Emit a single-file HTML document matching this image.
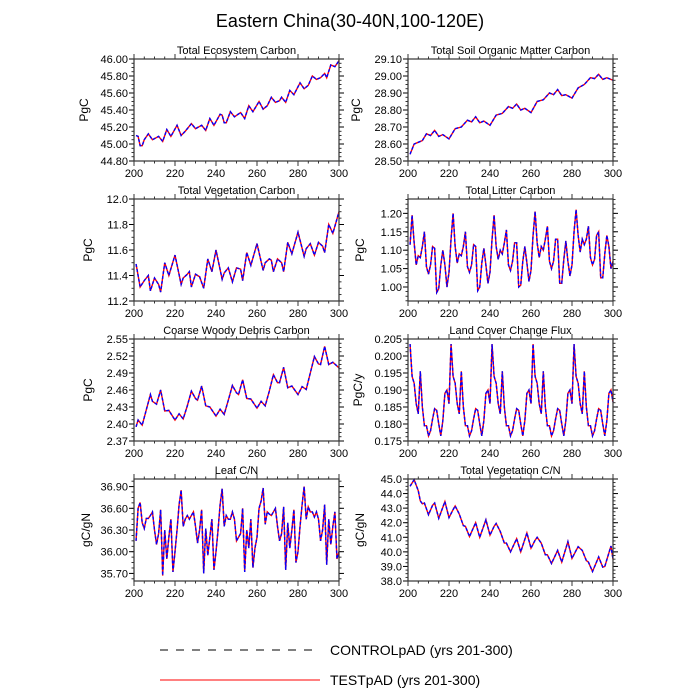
<!DOCTYPE html>
<html><head><meta charset="utf-8"><style>
html,body{margin:0;padding:0;background:#fff;}
svg{display:block;font-family:"Liberation Sans",sans-serif;}
</style></head><body>
<svg id="chart" width="700" height="700" viewBox="0 0 700 700">
<text x="350" y="27" text-anchor="middle" font-size="18" fill="#000">Eastern China(30-40N,100-120E)</text>
<g id="panels"></g>
<g>
<line x1="160" y1="650" x2="320" y2="650" stroke="#000" stroke-width="1" stroke-dasharray="8,8"/>
<text x="330" y="655" font-size="14">CONTROLpAD (yrs 201-300)</text>
<line x1="160" y1="680" x2="320" y2="680" stroke="#f00" stroke-width="1"/>
<text x="330" y="685" font-size="14">TESTpAD (yrs 201-300)</text>
</g>
</svg>
<script>
const ecoYears=[201,202,203,204,205,207,209,212,214,216,218,221,223,225,228,230,233,235,237,239,242,243,244,245,247,249,252,254,256,258,261,263,265,267,269,271,272,274,276,278,281,283,285,287,289,291,293,294,296,298,300];
const ecoTest=[45.10,45.09,44.98,44.98,45.05,45.12,45.05,45.09,45.03,45.17,45.09,45.22,45.10,45.15,45.24,45.18,45.22,45.16,45.30,45.22,45.35,45.34,45.25,45.25,45.38,45.32,45.37,45.30,45.45,45.38,45.50,45.41,45.45,45.55,45.49,45.51,45.55,45.49,45.63,45.58,45.72,45.65,45.69,45.80,45.76,45.78,45.83,45.78,45.93,45.91,45.98];
const ecoCtrl=ecoTest;

const soilYears=[201,203,205,207,209,211,213,215,217,220,223,226,229,231,233,235,237,240,243,246,249,251,253,255,257,260,263,266,269,271,273,275,277,280,283,286,289,291,293,295,297,300];
const soilTest=[28.54,28.60,28.61,28.62,28.66,28.65,28.68,28.645,28.655,28.63,28.69,28.70,28.74,28.73,28.76,28.725,28.735,28.71,28.77,28.78,28.82,28.81,28.835,28.80,28.81,28.785,28.85,28.86,28.90,28.89,28.92,28.885,28.89,28.87,28.93,28.95,28.99,28.985,29.01,28.98,28.99,28.975];
const soilCtrl=soilTest;

const vegYears=[201,203,205,207,208,210,212,213,215,217,220,223,224,226,227,228,230,232,234,236,238,240,243,244,246,248,250,252,253,255,257,260,263,264,266,267,268,270,272,273,275,277,280,283,284,286,288,290,292,293,295,297,300];
const vegTest=[11.49,11.31,11.36,11.40,11.28,11.38,11.33,11.27,11.50,11.40,11.56,11.33,11.38,11.41,11.43,11.31,11.41,11.39,11.30,11.53,11.43,11.60,11.37,11.42,11.46,11.35,11.46,11.45,11.36,11.58,11.48,11.65,11.44,11.50,11.53,11.52,11.43,11.53,11.50,11.43,11.66,11.57,11.74,11.55,11.61,11.65,11.56,11.66,11.63,11.58,11.80,11.73,11.90];
const vegCtrl=vegTest;

const annualYears=[201,202,203,204,205,206,207,208,209,210,211,212,213,214,215,216,217,218,219,220,221,222,223,224,225,226,227,228,229,230,231,232,233,234,235,236,237,238,239,240,241,242,243,244,245,246,247,248,249,250,251,252,253,254,255,256,257,258,259,260,261,262,263,264,265,266,267,268,269,270,271,272,273,274,275,276,277,278,279,280,281,282,283,284,285,286,287,288,289,290,291,292,293,294,295,296,297,298,299,300];
const litterTest=[1.115,1.195,1.12,1.06,1.085,1.08,1.11,1.15,1.055,1.035,1.06,1.11,1.105,0.985,0.995,1.06,1.10,1.06,1.00,1.04,1.13,1.20,1.11,1.065,1.09,1.085,1.11,1.15,1.055,1.04,1.06,1.115,1.11,0.99,1.0,1.065,1.105,1.06,1.01,1.04,1.13,1.195,1.11,1.075,1.10,1.09,1.12,1.155,1.06,1.045,1.07,1.12,1.12,1.0,1.005,1.07,1.11,1.065,1.015,1.045,1.14,1.205,1.12,1.08,1.11,1.10,1.13,1.165,1.07,1.05,1.07,1.13,1.13,1.01,1.01,1.075,1.125,1.07,1.03,1.06,1.15,1.21,1.14,1.095,1.13,1.115,1.13,1.165,1.08,1.06,1.075,1.14,1.15,1.025,1.025,1.09,1.14,1.11,1.05,1.07];
const litterCtrl=litterTest;

const lccTest=[0.2035,0.194,0.192,0.186,0.183,0.1955,0.185,0.1795,0.1795,0.1765,0.178,0.1815,0.1845,0.184,0.180,0.1765,0.181,0.189,0.190,0.186,
0.2035,0.194,0.192,0.186,0.183,0.1955,0.185,0.1795,0.1795,0.1765,0.178,0.1815,0.1845,0.184,0.180,0.1765,0.181,0.189,0.190,0.186,
0.2035,0.194,0.192,0.186,0.183,0.1955,0.185,0.1795,0.1795,0.1765,0.178,0.1815,0.1845,0.184,0.180,0.1765,0.181,0.189,0.190,0.186,
0.2035,0.194,0.192,0.186,0.183,0.1955,0.185,0.1795,0.1795,0.1765,0.178,0.1815,0.1845,0.184,0.180,0.1765,0.181,0.189,0.190,0.186,
0.2035,0.194,0.192,0.186,0.183,0.1955,0.185,0.1795,0.1795,0.1765,0.178,0.1815,0.1845,0.184,0.180,0.1765,0.181,0.189,0.190,0.1865];
const lccCtrl=lccTest;

const cwdYears=[201,202,204,206,208,209,211,213,215,217,220,222,224,226,228,230,231,233,235,237,240,242,244,246,248,250,251,253,255,257,260,262,264,266,268,270,271,273,275,277,280,282,284,286,288,290,291,293,295,297,300];
const cwdTest=[2.395,2.407,2.398,2.425,2.452,2.44,2.435,2.46,2.423,2.424,2.407,2.418,2.409,2.432,2.458,2.445,2.442,2.467,2.432,2.43,2.414,2.426,2.417,2.442,2.468,2.455,2.452,2.478,2.445,2.444,2.428,2.44,2.432,2.458,2.487,2.473,2.473,2.50,2.464,2.467,2.452,2.466,2.461,2.49,2.519,2.506,2.505,2.537,2.505,2.509,2.499];
const cwdCtrl=cwdTest;

const leafTest=[36.15,36.6,36.68,36.4,36.32,36.46,36.46,36.5,36.55,36.3,36.1,36.25,36.58,35.67,36.3,35.9,36.2,36.45,35.72,36.0,36.3,36.65,36.85,36.35,36.45,36.5,36.45,36.5,36.55,36.35,36.12,36.3,36.58,35.7,36.32,35.95,36.2,36.45,35.75,36.0,36.3,36.65,36.87,36.35,36.5,36.45,36.45,36.55,36.45,36.15,36.2,36.25,36.6,35.72,36.3,36.05,36.45,35.78,36.05,36.2,36.6,36.7,36.88,36.38,36.55,36.52,36.5,36.55,36.6,36.35,36.15,36.25,36.62,35.75,36.4,36.05,36.3,36.58,35.85,36.0,36.35,36.65,36.9,36.45,36.62,36.55,36.55,36.48,36.55,36.45,36.15,36.3,36.65,35.82,36.45,36.1,36.35,36.55,35.9,36.0];
const leafCtrl=leafTest;

const vcnYears=[201,203,205,206,207,208,210,212,213,215,218,220,222,223,225,227,228,230,233,235,238,240,242,243,245,247,248,250,253,255,258,260,262,263,265,267,268,270,273,275,278,280,282,283,285,287,288,290,293,295,296,299,300];
const vcnTest=[44.5,44.95,44.2,43.5,43.3,43.35,42.55,43.2,43.35,42.3,43.45,42.35,42.9,43.15,42.6,41.8,41.75,41.05,42.0,41.0,42.2,41.15,41.75,41.95,41.4,40.6,40.6,40.0,40.9,40.0,41.3,40.25,40.8,41.0,40.6,39.8,39.8,39.2,40.1,39.3,40.7,39.55,40.1,40.35,40.1,39.4,39.3,38.65,39.65,38.95,39.0,40.4,39.5];
const vcnCtrl=vcnTest;

const xTicks=[200,220,240,260,280,300];

const NS="http://www.w3.org/2000/svg";
function mk(tag,attrs,parent){const e=document.createElementNS(NS,tag);for(const k in attrs)e.setAttribute(k,attrs[k]);parent.appendChild(e);return e;}

const panels=[
 {name:"total-ecosystem-carbon",title:"Total Ecosystem Carbon",unit:"PgC",x0:134,y0:59,yMin:44.8,yMax:46.0,major:0.2,minor:0.05,dec:2,years:ecoYears,test:ecoTest,ctrl:ecoCtrl,ut:88},
 {name:"total-soil-organic-matter-carbon",title:"Total Soil Organic Matter Carbon",unit:"PgC",x0:408,y0:59,yMin:28.5,yMax:29.1,major:0.1,minor:0.025,dec:2,years:soilYears,test:soilTest,ctrl:soilCtrl,ut:360},
 {name:"total-vegetation-carbon",title:"Total Vegetation Carbon",unit:"PgC",x0:134,y0:199,yMin:11.2,yMax:12.0,major:0.2,minor:0.05,dec:1,years:vegYears,test:vegTest,ctrl:vegCtrl,ut:92},
 {name:"total-litter-carbon",title:"Total Litter Carbon",unit:"PgC",x0:408,y0:199,yMin:0.962,yMax:1.239,major:0.05,minor:0.0125,dec:2,tickStart:1.0,tickEnd:1.2,years:annualYears,test:litterTest,ctrl:litterCtrl,ut:364},
 {name:"coarse-woody-debris-carbon",title:"Coarse Woody Debris Carbon",unit:"PgC",x0:134,y0:339,yMin:2.37,yMax:2.55,major:0.03,minor:0.0075,dec:2,years:cwdYears,test:cwdTest,ctrl:cwdCtrl,ut:92},
 {name:"land-cover-change-flux",title:"Land Cover Change Flux",unit:"PgC/y",x0:408,y0:339,yMin:0.175,yMax:0.205,major:0.005,minor:0.00125,dec:3,years:annualYears,test:lccTest,ctrl:lccCtrl,ut:362},
 {name:"leaf-cn",title:"Leaf C/N",unit:"gC/gN",x0:134,y0:479,yMin:35.595,yMax:37.005,major:0.3,minor:0.075,dec:2,tickStart:35.7,tickEnd:36.9,years:annualYears,test:leafTest,ctrl:leafCtrl,ut:90},
 {name:"total-vegetation-cn",title:"Total Vegetation C/N",unit:"gC/gN",x0:408,y0:479,yMin:38,yMax:45,major:1,minor:0.25,dec:1,years:vcnYears,test:vcnTest,ctrl:vcnCtrl,ut:364}
];
const W=205,H=102;
const root=document.getElementById('panels');
panels.forEach(p=>{
 const g=mk('g',{},root);
 
 
 const xs=v=>p.x0+(v-200)/100*W;
 const ys=v=>p.y0+H-(v-p.yMin)/(p.yMax-p.yMin)*H;
 const t=mk('text',{x:p.x0+W/2,y:p.y0-5,'text-anchor':'middle','font-size':'11'},g);t.textContent=p.title;
 
 
 const u=mk('text',{x:p.ut,y:p.y0+H/2,'text-anchor':'middle','font-size':'12',transform:`rotate(-90 ${p.ut} ${p.y0+H/2})`},g);u.textContent=p.unit;
 
 
 // minor y ticks
 const eps=1e-9;
 let ms=Math.ceil((p.yMin-eps)/p.minor)*p.minor;
 for(let v=ms;v<=p.yMax+eps;v+=p.minor){const y=ys(v);
  mk('line',{x1:p.x0-2.5,x2:p.x0,y1:y,y2:y,stroke:'#000','stroke-width':0.8},g);
  mk('line',{x1:p.x0+W,x2:p.x0+W+2.5,y1:y,y2:y,stroke:'#000','stroke-width':0.8},g);}
 const ts=p.tickStart!==undefined?p.tickStart:p.yMin, te=p.tickEnd!==undefined?p.tickEnd:p.yMax;
 const n=Math.round((te-ts)/p.major);
 for(let i=0;i<=n;i++){const v=ts+i*p.major;const y=ys(v);
  mk('line',{x1:p.x0-5,x2:p.x0,y1:y,y2:y,stroke:'#000','stroke-width':1},g);
  mk('line',{x1:p.x0+W,x2:p.x0+W+5,y1:y,y2:y,stroke:'#000','stroke-width':1},g);
  const l=mk('text',{x:p.x0-6,y:y+4,'text-anchor':'end','font-size':'11'},g);l.textContent=v.toFixed(p.dec);
  
  }
 for(let v=200;v<=300;v+=5){const x=xs(v);const L=(v%20===0)?5:2.5;
  mk('line',{x1:x,x2:x,y1:p.y0+H,y2:p.y0+H+L,stroke:'#000','stroke-width':0.8},g);
  mk('line',{x1:x,x2:x,y1:p.y0-L,y2:p.y0,stroke:'#000','stroke-width':0.8},g);}
 xTicks.forEach(v=>{const l=mk('text',{x:xs(v),y:p.y0+H+16,'text-anchor':'middle','font-size':'11'},g);l.textContent=v;
  
  });
 const pts=arr=>p.years.map((yr,i)=>xs(yr).toFixed(2)+','+ys(arr[i]).toFixed(2)).join(' ');
 const r=mk('polyline',{points:pts(p.test),fill:'none',stroke:'#f00','stroke-width':1.4},g);
 
 
 const b=mk('polyline',{points:pts(p.ctrl),fill:'none',stroke:'#00f','stroke-width':1.4,'stroke-dasharray':'3,2'},g);
 
 
 const f=mk('rect',{x:p.x0,y:p.y0,width:W,height:H,fill:'none',stroke:'#333','stroke-width':1.2},g);
 
 
});
</script>
</body></html>
